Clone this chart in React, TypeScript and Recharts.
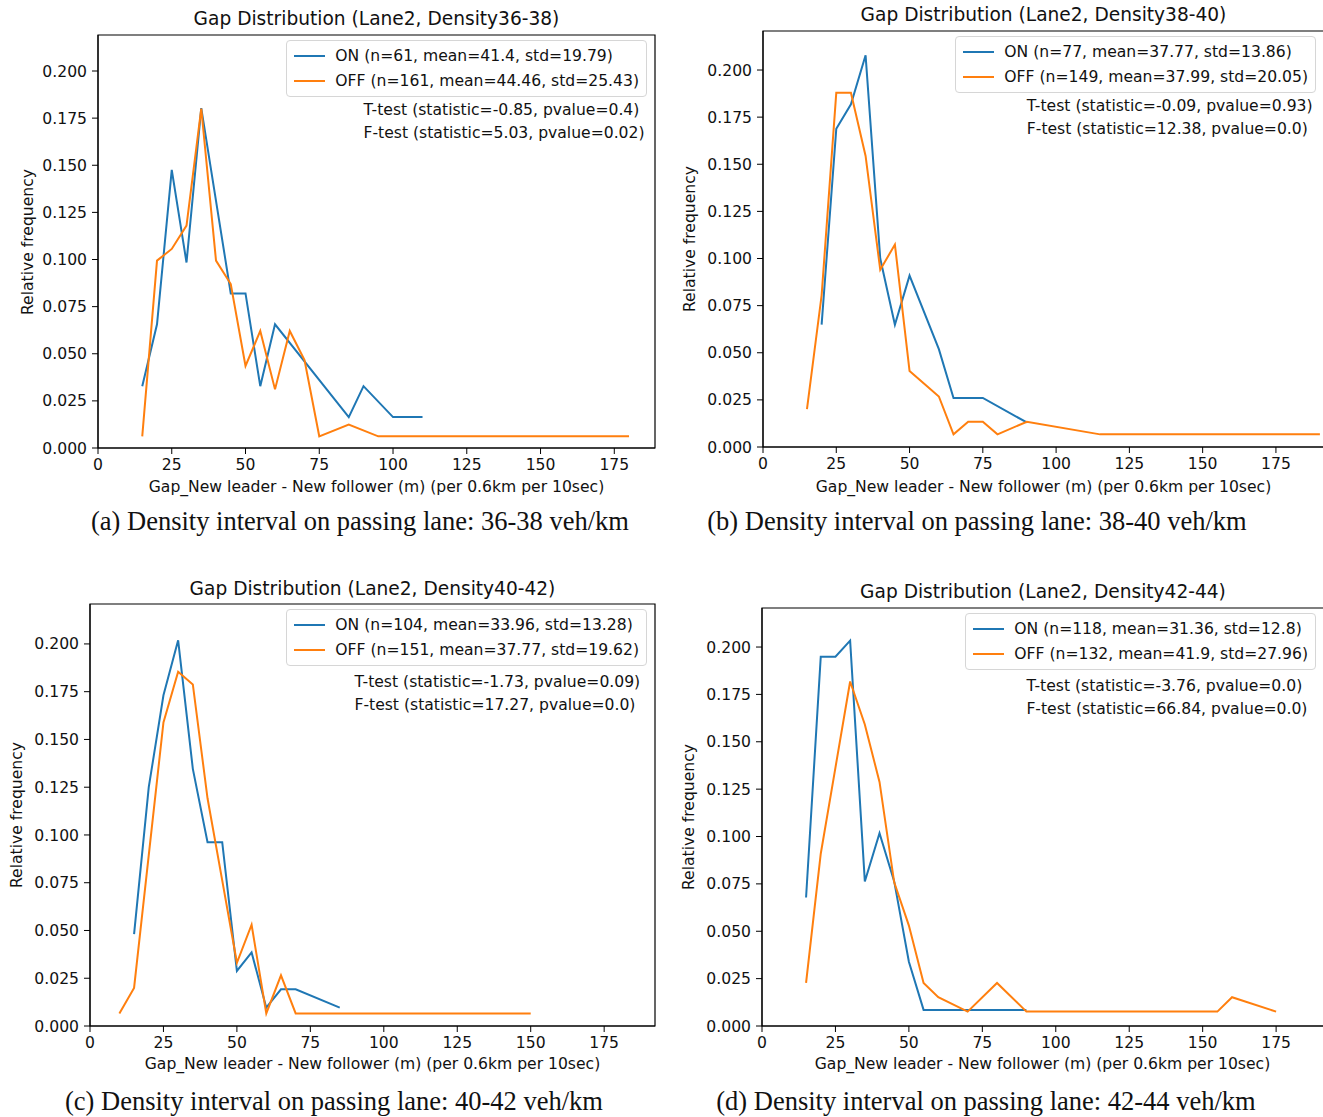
import React from 'react';
import { LineChart, Line, XAxis, YAxis, ReferenceArea, Legend } from 'recharts';

const ON_COLOR = '#1f77b4';
const OFF_COLOR = '#ff7f0e';
const FONT = "'DejaVu Sans', sans-serif";
const SERIF = "'Liberation Serif', 'Times New Roman', serif";
const TXT = '#111';

// ---------- shared ticks ----------
const xTicks = [0, 25, 50, 75, 100, 125, 150, 175];
const yTicks = [0, 0.025, 0.05, 0.075, 0.1, 0.125, 0.15, 0.175, 0.2];

// ---------- panel (a) Density 36-38 ----------
const aGapOn = [15, 20, 25, 30, 35, 40, 45, 50, 55, 60, 85, 90, 100, 110];
const aOn = [0.0328, 0.0656, 0.1475, 0.0984, 0.1803, 0.1311, 0.082, 0.082, 0.0328, 0.0656, 0.0164, 0.0328, 0.0164, 0.0164];
const aGapOff = [15, 20, 25, 30, 35, 40, 45, 50, 55, 60, 65, 70, 75, 85, 95, 180];
const aOff = [0.0062, 0.0994, 0.1056, 0.118, 0.1801, 0.0994, 0.087, 0.0435, 0.0621, 0.0311, 0.0621, 0.0466, 0.0062, 0.0124, 0.0062, 0.0062];
const aLegend = ['ON (n=61, mean=41.4, std=19.79)', 'OFF (n=161, mean=44.46, std=25.43)'];
const aTests = ['T-test (statistic=-0.85, pvalue=0.4)', 'F-test (statistic=5.03, pvalue=0.02)'];

// ---------- panel (b) Density 38-40 ----------
const bGapOn = [20, 25, 30, 35, 40, 45, 50, 60, 65, 75, 90];
const bOn = [0.0649, 0.1688, 0.1818, 0.2078, 0.1, 0.0649, 0.0909, 0.0519, 0.026, 0.026, 0.013];
const bGapOff = [15, 20, 25, 30, 35, 40, 45, 50, 55, 60, 65, 70, 75, 80, 90, 115, 160, 190];
const bOff = [0.0201, 0.0805, 0.1879, 0.1879, 0.1544, 0.094, 0.1074, 0.0403, 0.0336, 0.0268, 0.0067, 0.0134, 0.0134, 0.0067, 0.0134, 0.0067, 0.0067, 0.0067];
const bLegend = ['ON (n=77, mean=37.77, std=13.86)', 'OFF (n=149, mean=37.99, std=20.05)'];
const bTests = ['T-test (statistic=-0.09, pvalue=0.93)', 'F-test (statistic=12.38, pvalue=0.0)'];

// ---------- panel (c) Density 40-42 ----------
const cGapOn = [15, 20, 25, 30, 35, 40, 45, 50, 55, 60, 65, 70, 85];
const cOn = [0.0481, 0.125, 0.1731, 0.2019, 0.1346, 0.0962, 0.0962, 0.0288, 0.0385, 0.0096, 0.0192, 0.0192, 0.0096];
const cGapOff = [10, 15, 20, 25, 30, 35, 40, 45, 50, 55, 60, 65, 70, 150];
const cOff = [0.0066, 0.0199, 0.0894, 0.1589, 0.1854, 0.1788, 0.1192, 0.0762, 0.0331, 0.053, 0.0066, 0.0265, 0.0066, 0.0066];
const cLegend = ['ON (n=104, mean=33.96, std=13.28)', 'OFF (n=151, mean=37.77, std=19.62)'];
const cTests = ['T-test (statistic=-1.73, pvalue=0.09)', 'F-test (statistic=17.27, pvalue=0.0)'];

// ---------- panel (d) Density 42-44 ----------
const dGapOn = [15, 20, 25, 30, 35, 40, 45, 50, 55, 90];
const dOn = [0.0678, 0.1949, 0.1949, 0.2034, 0.0763, 0.1017, 0.0763, 0.0339, 0.0085, 0.0085];
const dGapOff = [15, 20, 25, 30, 35, 40, 45, 50, 55, 60, 70, 80, 90, 155, 160, 175];
const dOff = [0.0227, 0.0909, 0.1364, 0.1818, 0.1591, 0.1288, 0.0758, 0.053, 0.0227, 0.0152, 0.0076, 0.0227, 0.0076, 0.0076, 0.0152, 0.0076];
const dLegend = ['ON (n=118, mean=31.36, std=12.8)', 'OFF (n=132, mean=41.9, std=27.96)'];
const dTests = ['T-test (statistic=-3.76, pvalue=0.0)', 'F-test (statistic=66.84, pvalue=0.0)'];

const xLabel = 'Gap_New leader - New follower (m) (per 0.6km per 10sec)';
const yLabel = 'Relative frequency';

const toPoints = (xs: number[], ys: number[]) => xs.map((x, i) => ({ x, y: ys[i] }));

type PanelCfg = {
  title: string;
  caption: string;
  on: { x: number; y: number }[];
  off: { x: number; y: number }[];
  legend: string[];
  tests: string[];
  box: { x0: number; x1: number; y0: number; y1: number };
  xMax: number;
  yMax: number;
  titleY: number;
  yLabelX: number;
  xLabelY: number;
  capX: number;
  capY: number;
  testTop: number;
};

const panels: PanelCfg[] = [
  {
    title: 'Gap Distribution (Lane2, Density36-38)',
    caption: '(a) Density interval on passing lane: 36-38 veh/km',
    on: toPoints(aGapOn, aOn), off: toPoints(aGapOff, aOff), legend: aLegend, tests: aTests,
    box: { x0: 98, x1: 655, y0: 35, y1: 448 }, xMax: 188.8, yMax: 0.2191,
    titleY: 18, yLabelX: 28, xLabelY: 487, capX: 360, capY: 521, testTop: 99,
  },
  {
    title: 'Gap Distribution (Lane2, Density38-40)',
    caption: '(b) Density interval on passing lane: 38-40 veh/km',
    on: toPoints(bGapOn, bOn), off: toPoints(bGapOff, bOff), legend: bLegend, tests: bTests,
    box: { x0: 763, x1: 1324, y0: 31, y1: 447 }, xMax: 191.4, yMax: 0.2207,
    titleY: 14, yLabelX: 690, xLabelY: 487, capX: 977, capY: 521, testTop: 95,
  },
  {
    title: 'Gap Distribution (Lane2, Density40-42)',
    caption: '(c) Density interval on passing lane: 40-42 veh/km',
    on: toPoints(cGapOn, cOn), off: toPoints(cGapOff, cOff), legend: cLegend, tests: cTests,
    box: { x0: 90, x1: 655, y0: 604, y1: 1026 }, xMax: 192.3, yMax: 0.2209,
    titleY: 588, yLabelX: 17, xLabelY: 1064, capX: 334, capY: 1101, testTop: 671,
  },
  {
    title: 'Gap Distribution (Lane2, Density42-44)',
    caption: '(d) Density interval on passing lane: 42-44 veh/km',
    on: toPoints(dGapOn, dOn), off: toPoints(dGapOff, dOff), legend: dLegend, tests: dTests,
    box: { x0: 762, x1: 1324, y0: 608, y1: 1026 }, xMax: 191.3, yMax: 0.2206,
    titleY: 591, yLabelX: 689, xLabelY: 1064, capX: 986, capY: 1101, testTop: 675,
  },
];

const LegendBox = ({ rows }: { rows: { label: string; color: string }[] }) => (
  <div
    style={{
      border: '1px solid #d6d6d6',
      borderRadius: 4,
      background: 'rgba(255,255,255,0.85)',
      padding: '2px 7px 3px 7px',
      fontFamily: FONT,
      fontSize: 15.6,
      color: TXT,
      whiteSpace: 'nowrap',
    }}
  >
    {rows.map((r) => (
      <div key={r.label} style={{ display: 'flex', alignItems: 'center', height: 25 }}>
        <span style={{ display: 'inline-block', width: 31, height: 2, background: r.color, marginRight: 10 }} />
        <span>{r.label}</span>
      </div>
    ))}
  </div>
);

const Panel = ({ p }: { p: PanelCfg }) => {
  const { box } = p;
  const plotW = box.x1 - box.x0;
  const plotH = box.y1 - box.y0;
  const W = plotW + 100;
  const H = plotH + 40;
  const cx = (box.x0 + box.x1) / 2;
  const testLeft = box.x0 + (90 / p.xMax) * plotW;
  const rows = [
    { label: p.legend[0], color: ON_COLOR },
    { label: p.legend[1], color: OFF_COLOR },
  ];
  const tickStyle = { fontSize: 15.6, fill: TXT, fontFamily: FONT };
  return (
    <>
      <div style={{ position: 'absolute', left: box.x0 - 90, top: box.y0 - 10, width: W, height: H }}>
        <LineChart width={W} height={H} margin={{ top: 10, right: 10, bottom: 0, left: 0 }}>
          <XAxis
            dataKey="x"
            type="number"
            domain={[0, p.xMax]}
            ticks={xTicks}
            interval={0}
            allowDataOverflow
            height={30}
            tickMargin={5}
            tick={tickStyle}
            stroke="#000"
            tickLine={{ stroke: '#000' }}
            axisLine={{ stroke: '#000' }}
          />
          <YAxis
            type="number"
            domain={[0, p.yMax]}
            ticks={yTicks}
            interval={0}
            allowDataOverflow
            width={90}
            tickMargin={5}
            tick={tickStyle}
            tickFormatter={(v: number) => v.toFixed(3)}
            stroke="#000"
            tickLine={{ stroke: '#000' }}
            axisLine={{ stroke: '#000' }}
          />
          <ReferenceArea
            x1={0}
            x2={p.xMax}
            y1={0}
            y2={p.yMax}
            fill="none"
            fillOpacity={0}
            stroke="#000"
            strokeWidth={1.2}
            ifOverflow="visible"
          />
          <Line
            data={p.on}
            dataKey="y"
            name={p.legend[0]}
            type="linear"
            stroke={ON_COLOR}
            strokeWidth={2}
            dot={false}
            activeDot={false}
            isAnimationActive={false}
          />
          <Line
            data={p.off}
            dataKey="y"
            name={p.legend[1]}
            type="linear"
            stroke={OFF_COLOR}
            strokeWidth={2}
            dot={false}
            activeDot={false}
            isAnimationActive={false}
          />
          <Legend
            layout="vertical"
            align="center"
            verticalAlign="middle"
            wrapperStyle={{ right: 18, top: 15, left: 'auto', width: 'auto', height: 'auto' }}
            content={() => <LegendBox rows={rows} />}
          />
        </LineChart>
      </div>
      {/* test annotations */}
      <div
        style={{
          position: 'absolute',
          left: testLeft,
          top: p.testTop,
          fontFamily: FONT,
          fontSize: 15.6,
          lineHeight: '22.5px',
          color: TXT,
          whiteSpace: 'nowrap',
        }}
      >
        <div>{p.tests[0]}</div>
        <div>{p.tests[1]}</div>
      </div>
      {/* title */}
      <div
        style={{
          position: 'absolute',
          left: cx,
          top: p.titleY,
          transform: 'translate(-50%, -50%)',
          fontFamily: FONT,
          fontSize: 18.6,
          color: TXT,
          whiteSpace: 'nowrap',
        }}
      >
        {p.title}
      </div>
      {/* y label */}
      <div
        style={{
          position: 'absolute',
          left: p.yLabelX,
          top: (box.y0 + box.y1) / 2,
          transform: 'translate(-50%, -50%) rotate(-90deg)',
          fontFamily: FONT,
          fontSize: 15.6,
          color: TXT,
          whiteSpace: 'nowrap',
        }}
      >
        {yLabel}
      </div>
      {/* x label */}
      <div
        style={{
          position: 'absolute',
          left: cx > 1000 ? (box.x0 + box.x0 + 561) / 2 : cx,
          top: p.xLabelY,
          transform: 'translate(-50%, -50%)',
          fontFamily: FONT,
          fontSize: 15.6,
          color: TXT,
          whiteSpace: 'nowrap',
        }}
      >
        {xLabel}
      </div>
      {/* caption */}
      <div
        style={{
          position: 'absolute',
          left: p.capX,
          top: p.capY,
          transform: 'translate(-50%, -50%)',
          fontFamily: SERIF,
          fontSize: 26.5,
          color: TXT,
          whiteSpace: 'nowrap',
        }}
      >
        {p.caption}
      </div>
    </>
  );
};

export default function App() {
  return (
    <div
      style={{
        position: 'absolute',
        left: 0,
        top: 0,
        width: 1323,
        height: 1117,
        overflow: 'hidden',
        background: '#fff',
      }}
    >
      {panels.map((p) => (
        <Panel key={p.title} p={p} />
      ))}
    </div>
  );
}
